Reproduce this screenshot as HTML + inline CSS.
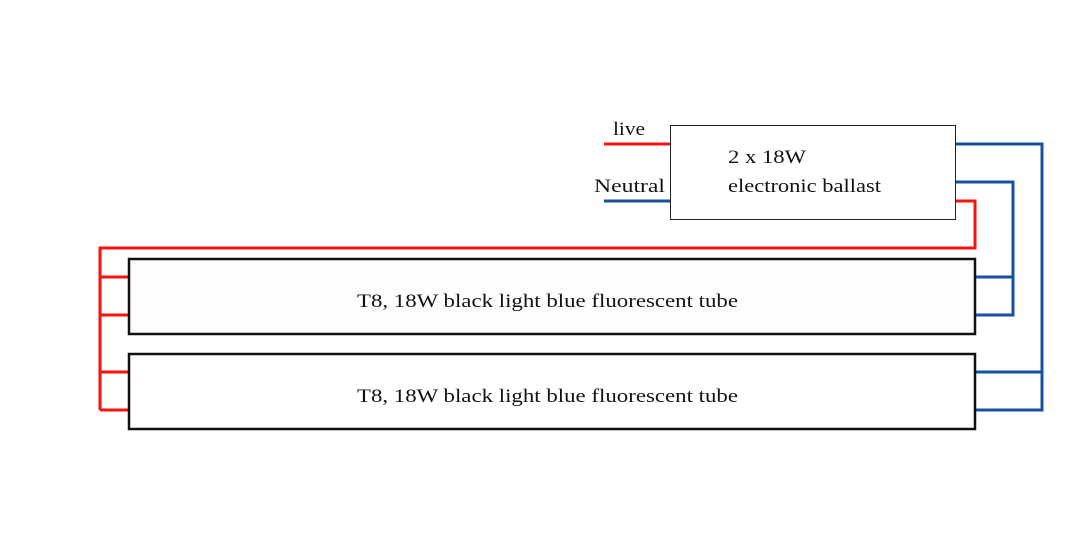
<!DOCTYPE html>
<html><head><meta charset="utf-8"><style>
html,body{margin:0;padding:0;background:#fff;}
svg{display:block;}
text{font-family:"Liberation Serif",serif;fill:#111;}
</style></head><body>
<svg width="1080" height="555" viewBox="0 0 1080 555" xmlns="http://www.w3.org/2000/svg">
<rect width="1080" height="555" fill="#fff"/>
<!-- ballast -->
<rect x="670.5" y="125.5" width="285" height="94" fill="#fff" stroke="#222" stroke-width="1"/>
<text x="728" y="163" font-size="19" textLength="78" lengthAdjust="spacingAndGlyphs">2 x 18W</text>
<text x="728" y="192" font-size="19" textLength="153" lengthAdjust="spacingAndGlyphs">electronic ballast</text>
<text x="613" y="135" font-size="19" textLength="32" lengthAdjust="spacingAndGlyphs">live</text>
<text x="594" y="192" font-size="19" textLength="71" lengthAdjust="spacingAndGlyphs">Neutral</text>
<!-- input wires -->
<line x1="604" y1="144" x2="670" y2="144" stroke="#ff1010" stroke-width="3"/>
<line x1="604" y1="201" x2="670" y2="201" stroke="#1652a2" stroke-width="3"/>
<!-- red wiring -->
<polyline points="956,201 975,201 975,248 100,248 100,410" fill="none" stroke="#ff1010" stroke-width="3"/>
<g stroke="#ff1010" stroke-width="3">
<line x1="100" y1="277" x2="129" y2="277"/>
<line x1="100" y1="315" x2="129" y2="315"/>
<line x1="100" y1="372" x2="129" y2="372"/>
<line x1="100" y1="410" x2="129" y2="410"/>
</g>
<!-- blue wiring -->
<polyline points="956,144 1042,144 1042,410 975,410" fill="none" stroke="#1652a2" stroke-width="3"/>
<polyline points="956,182 1013,182 1013,315 975,315" fill="none" stroke="#1652a2" stroke-width="3"/>
<g stroke="#1652a2" stroke-width="3">
<line x1="975" y1="277" x2="1013" y2="277"/>
<line x1="975" y1="372" x2="1042" y2="372"/>
</g>
<!-- tubes -->
<rect x="129" y="259" width="846" height="75" fill="#fdfdfb" stroke="#111" stroke-width="2.5"/>
<rect x="129" y="354" width="846" height="75" fill="#fff" stroke="#111" stroke-width="2.5"/>
<text x="357" y="307" font-size="19" textLength="381" lengthAdjust="spacingAndGlyphs">T8, 18W black light blue fluorescent tube</text>
<text x="357" y="402" font-size="19" textLength="381" lengthAdjust="spacingAndGlyphs">T8, 18W black light blue fluorescent tube</text>
</svg>
</body></html>
